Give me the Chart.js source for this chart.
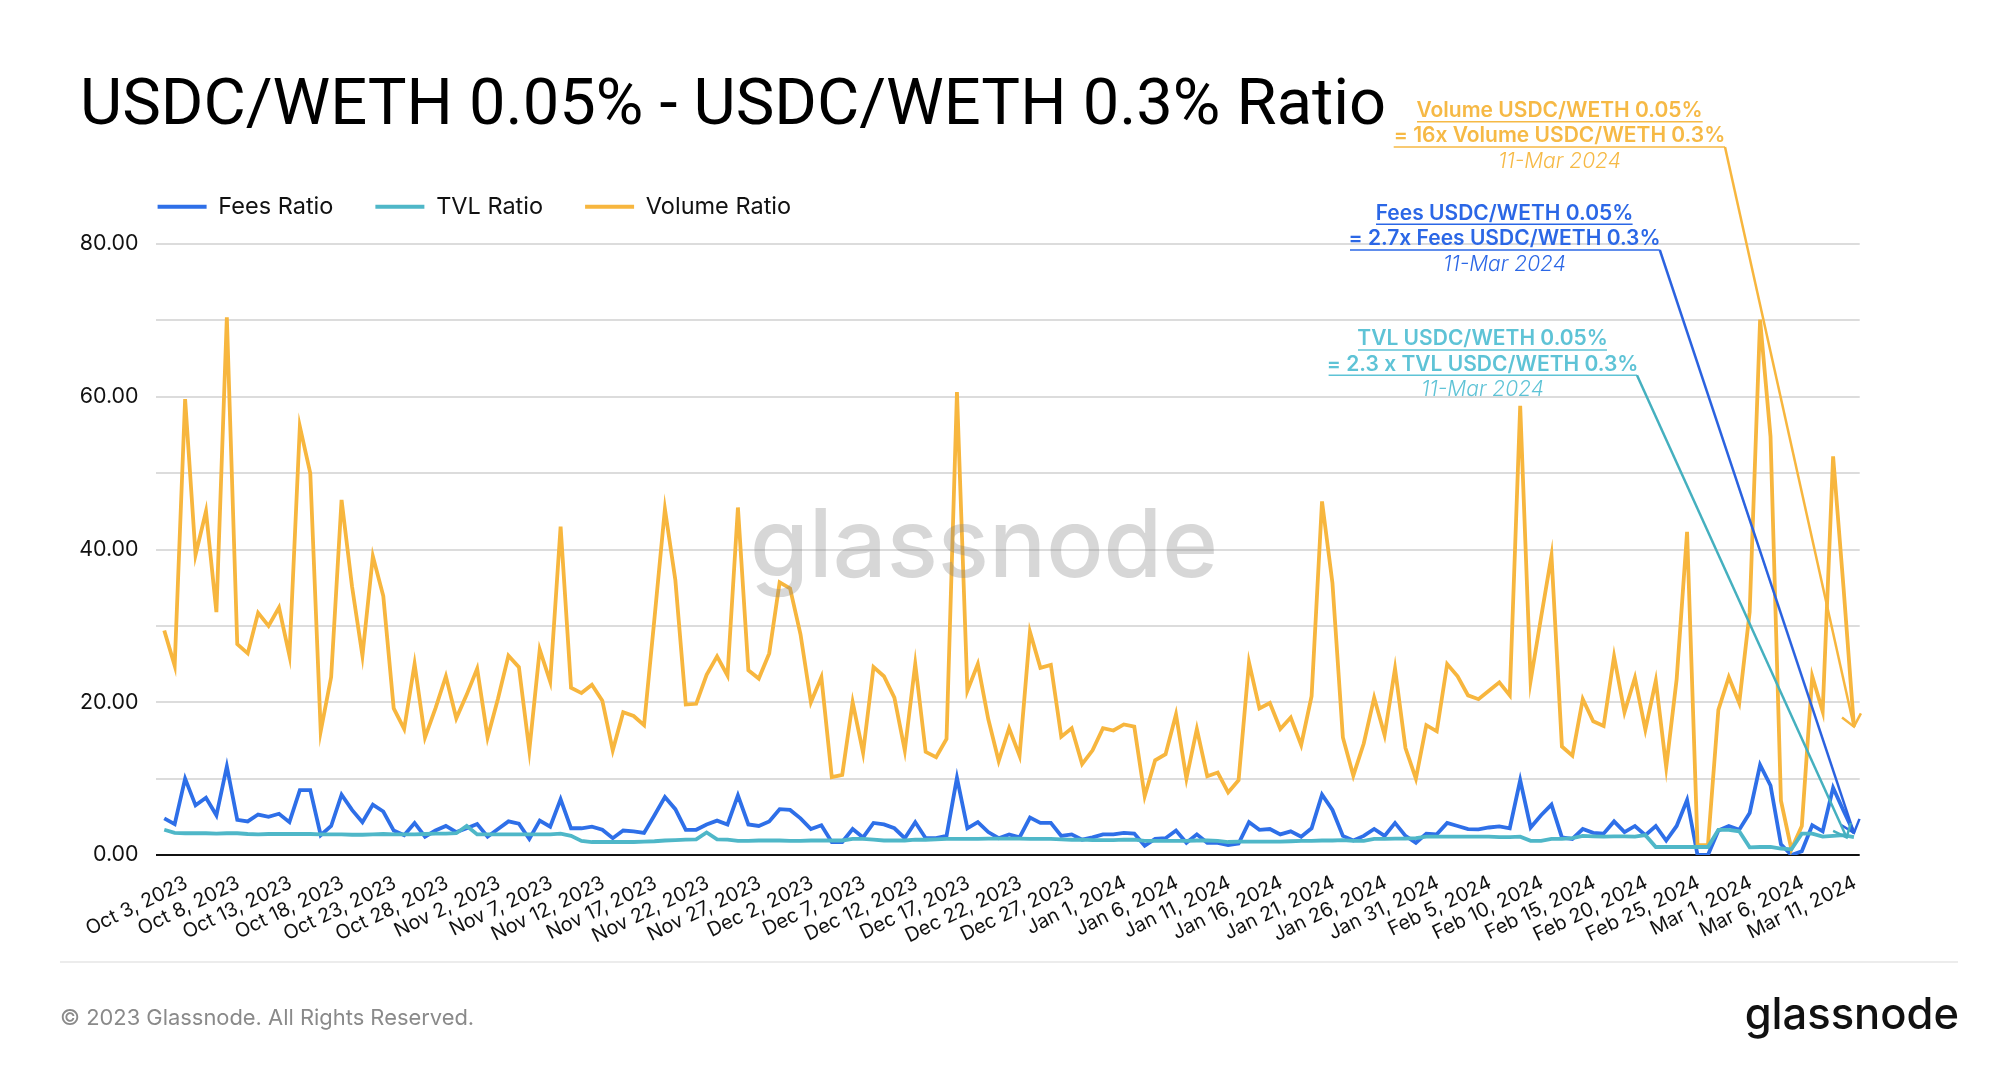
<!DOCTYPE html>
<html><head><meta charset="utf-8">
<style>html,body{margin:0;padding:0;background:#fff}canvas{display:block}</style>
<script src="https://cdn.jsdelivr.net/npm/chart.js@4/dist/chart.umd.js"></script>
</head><body>
<canvas id="c" width="2000" height="1068"></canvas>
<script>
const titleText = 'USDC/WETH 0.05% - USDC/WETH 0.3% Ratio';
const startDate = [2023, 9, 3];
const feesRatio = [4.8,4.05,10,6.5,7.5,5.2,11.6,4.6,4.4,5.3,
5,5.4,4.3,8.5,8.5,2.6,3.8,7.9,5.9,4.3,
6.6,5.7,3.2,2.6,4.2,2.4,3.2,3.8,3,3.5,
4.05,2.4,3.4,4.4,4.1,2.1,4.5,3.7,7.3,3.5,
3.5,3.7,3.3,2.2,3.2,3.1,2.9,5.2,7.6,6,
3.3,3.3,4,4.5,4,7.8,4,3.8,4.4,6,
5.9,4.8,3.4,3.9,1.7,1.7,3.4,2.3,4.2,4,
3.5,2.2,4.3,2.2,2.2,2.5,10.1,3.5,4.3,3,
2.2,2.7,2.3,4.9,4.2,4.2,2.5,2.7,2,2.3,
2.7,2.7,2.9,2.8,1.2,2.1,2.2,3.2,1.6,2.7,
1.6,1.6,1.3,1.5,4.3,3.3,3.4,2.7,3.1,2.4,
3.5,7.9,5.9,2.5,1.9,2.5,3.4,2.5,4.2,2.5,
1.6,2.8,2.7,4.2,3.8,3.4,3.35,3.6,3.75,3.5,
9.8,3.6,5.2,6.6,2.3,2.1,3.4,2.9,2.8,4.4,
3,3.8,2.6,3.8,1.9,3.8,7.2,0,0,3.2,
3.8,3.3,5.5,11.8,9.1,1.4,0,0.5,3.9,3.1,
8.8,5.8,2.9];
const tvlRatio = [3.3,2.9,2.85,2.85,2.85,2.8,2.85,2.85,2.75,2.7,
2.75,2.75,2.75,2.75,2.75,2.7,2.7,2.7,2.65,2.65,
2.7,2.75,2.7,2.7,2.7,2.75,2.8,2.8,2.85,3.8,
2.7,2.7,2.7,2.7,2.7,2.7,2.7,2.7,2.8,2.5,
1.85,1.7,1.7,1.7,1.7,1.7,1.75,1.8,1.9,1.95,
2,2.05,2.95,2.05,2,1.85,1.85,1.9,1.9,1.9,
1.85,1.85,1.9,1.9,1.9,1.9,2.1,2.1,2,1.9,
1.9,1.9,2,2,2.05,2.1,2.1,2.1,2.1,2.15,
2.15,2.15,2.15,2.1,2.1,2.1,2.05,2,2,1.95,
1.95,1.95,2,2,1.85,1.85,1.85,1.85,1.85,1.9,
1.9,1.85,1.7,1.75,1.75,1.75,1.75,1.75,1.8,1.85,
1.85,1.9,1.9,1.95,1.85,1.85,2.1,2.1,2.15,2.15,
2.2,2.4,2.4,2.4,2.4,2.4,2.4,2.4,2.35,2.35,
2.4,1.85,1.85,2.1,2.1,2.2,2.5,2.45,2.4,2.45,
2.45,2.4,2.6,1.05,1.05,1.05,1.05,1.05,1.05,3.3,
3.3,3.1,1,1.05,1.05,0.85,0.75,2.8,2.8,2.4,
2.5,2.6,2.35];
const volumeRatio = [29.4,24.8,59.7,39.3,45,31.8,70.4,27.6,26.4,31.7,
30,32.4,26.1,56.1,50,16.2,23.3,46.5,35.2,26.1,
39.1,33.9,19.2,16.5,25,15.4,19.2,23.4,17.9,21,
24.4,15.4,20.5,26.1,24.6,13.7,26.9,22.7,43,21.9,
21.2,22.3,20.2,13.7,18.7,18.2,17,31,45.3,36,
19.7,19.8,23.6,26,23.5,45.5,24.2,23.1,26.4,35.7,
34.9,28.9,20,23.3,10.2,10.5,20,13.4,24.6,23.4,
20.6,13.7,25,13.5,12.8,15.2,60.6,21.5,25,17.8,
12.3,16.6,13,29.2,24.5,24.9,15.5,16.6,11.9,13.7,
16.6,16.3,17.1,16.8,7.7,12.4,13.2,18.4,10,16.5,
10.3,10.8,8.2,9.8,25.2,19.2,19.9,16.5,18,14.4,
20.8,46.3,35.6,15.4,10.4,14.6,20.6,15.7,24.4,14,
10,17,16.2,25,23.4,20.9,20.4,21.5,22.6,20.9,
58.8,22.8,31.1,39.2,14.2,13,20.4,17.5,16.9,26,
18.7,23.2,16.4,22.8,11.5,23,42.3,1.3,1.3,19,
23.3,19.9,31.8,70.1,54.8,7.1,0.75,3.8,23.4,18.8,
52.2,35,16.8];
const tickStep = 5;
const lastTick = 160;
const seriesNames = ['Fees Ratio','TVL Ratio','Volume Ratio'];
const BLUE='#2e6fe8', TEAL='#4fb7c8', ORANGE='#f7b63e';

const categories = volumeRatio.map((_, i) => {
  const d = new Date(startDate[0], startDate[1], startDate[2] + i);
  return d.toLocaleDateString('en-US', {month:'short', day:'numeric', year:'numeric'});
});
const tickIndex = [];
for (let i = 0; i <= lastTick; i += tickStep) tickIndex.push(i);
const toPoints = arr => arr.map((y, x) => ({x, y}));

const callouts = [
 {color:'#f6b945', line:ORANGE, cx:1559.5, ys:[110.3,136,161.7], t:['Volume USDC/WETH 0.05%','= 16x Volume USDC/WETH 0.3%','11-Mar 2024'],
  u1:[1417,1702.7,121.7], u2:[1393.7,1725,147], ti:162, tv:16.8},
 {color:'#2b67e6', line:'#2b63e0', cx:1504.5, ys:[213.3,238.7,264.3], t:['Fees USDC/WETH 0.05%','= 2.7x Fees USDC/WETH 0.3%','11-Mar 2024'],
  u1:[1376,1632.6,224.3], u2:[1350,1659.8,250], ti:162, tv:2.9},
 {color:'#5ec3d6', line:'#45b0bf', cx:1482.6, ys:[338.7,364.3,389.3], t:['TVL USDC/WETH 0.05%','= 2.3 x TVL USDC/WETH 0.3%','11-Mar 2024'],
  u1:[1358,1607,350], u2:[1328.6,1637,375.3], ti:161.3, tv:2.3}
];

const overlay = {
  id:'overlay',
  beforeLayout(chart){
    const lg = chart.legend;
    if(!lg._patched){
      lg._patched = true;
      const fit = lg.fit;
      lg.fit = function(){ fit.call(this); this.height = 91; };
    }
  },
  afterLayout(chart){
    chart.legend.left = chart.chartArea.left - 40;
  },
  afterDatasetsDraw(chart){
    const {ctx, scales:{x,y}} = chart;
    ctx.save();
    ctx.fillStyle='rgba(130,130,130,0.32)';
    ctx.font='500 95px "Inter"';
    ctx.textAlign='center'; ctx.textBaseline='alphabetic';
    ctx.fillText('glassnode', 984, 577);
    for(const c of callouts){
      ctx.textAlign='center'; ctx.textBaseline='middle'; ctx.fillStyle=c.color;
      ctx.font='600 21px "Inter"';
      ctx.fillText(c.t[0], c.cx, c.ys[0]);
      ctx.fillText(c.t[1], c.cx, c.ys[1]);
      ctx.font='italic 300 21px "Inter"';
      ctx.fillText(c.t[2], c.cx, c.ys[2]);
      ctx.strokeStyle=c.color; ctx.lineWidth=1.6;
      for(const u of [c.u1,c.u2]){ctx.beginPath();ctx.moveTo(u[0],u[2]);ctx.lineTo(u[1],u[2]);ctx.stroke();}
      const sx=c.u2[1], sy=c.u2[2], tx=x.getPixelForValue(c.ti), ty=y.getPixelForValue(c.tv);
      ctx.strokeStyle=c.line; ctx.lineWidth=2.5;
      ctx.beginPath();ctx.moveTo(sx,sy);ctx.lineTo(tx,ty);ctx.stroke();
      const a=Math.atan2(sy-ty,sx-tx), L=15, w=0.7;
      ctx.beginPath();
      ctx.moveTo(tx+L*Math.cos(a-w),ty+L*Math.sin(a-w));
      ctx.lineTo(tx,ty);
      ctx.lineTo(tx+L*Math.cos(a+w),ty+L*Math.sin(a+w));
      ctx.stroke();
    }
    ctx.strokeStyle='#ececec'; ctx.lineWidth=2;
    ctx.beginPath();ctx.moveTo(60,962);ctx.lineTo(1958,962);ctx.stroke();
    ctx.textAlign='left'; ctx.textBaseline='middle'; ctx.fillStyle='#8a8a8a';
    ctx.font='21.9px "Inter"';
    ctx.fillText('© 2023 Glassnode. All Rights Reserved.', 60, 1018);
    ctx.textAlign='right'; ctx.textBaseline='alphabetic'; ctx.fillStyle='#111';
    ctx.font='500 43.5px "Inter"';
    ctx.fillText('glassnode', 1959, 1029);
    ctx.restore();
  }
};

new Chart(document.getElementById('c'), {
  type:'line',
  data:{datasets:[
    {label:seriesNames[0], data:toPoints(feesRatio), borderColor:BLUE, backgroundColor:BLUE, borderWidth:3.8, order:3},
    {label:seriesNames[1], data:toPoints(tvlRatio), borderColor:TEAL, backgroundColor:TEAL, borderWidth:3.8, order:1},
    {label:seriesNames[2], data:toPoints(volumeRatio), borderColor:ORANGE, backgroundColor:ORANGE, borderWidth:3.8, order:2}
  ]},
  options:{
    responsive:false, animation:false,
    layout:{padding:{left:80, right:140.3, top:0, bottom:0}},
    elements:{point:{radius:0}, line:{tension:0, borderJoinStyle:'miter'}},
    plugins:{
      tooltip:{enabled:false},
      title:{display:true, text:titleText, align:'start', color:'#000',
        font:{family:'Roboto', size:65, weight:'400'}, padding:{top:69, bottom:6}},
      legend:{display:true, position:'top', align:'start', fullSize:false,
        labels:{usePointStyle:true, pointStyle:'line', pointStyleWidth:49, padding:42,
          sort:(a,b)=>a.datasetIndex-b.datasetIndex,
          color:'#111', font:{family:'Inter', size:23.5}}}
    },
    scales:{
      x:{type:'linear', min:-0.83, max:162.55,
        afterBuildTicks(s){ s.ticks = tickIndex.map(value=>({value})); },
        afterFit(s){ s.height = 213; },
        grid:{display:false}, border:{display:false},
        ticks:{autoSkip:false, maxRotation:26, minRotation:26, labelOffset:22, padding:8,
          color:'#111', font:{family:'Inter', size:19.8},
          callback:v=>categories[v]}},
      y:{type:'linear', min:0, max:80,
        afterFit(s){ s.width = 75.6; },
        border:{display:false},
        grid:{drawTicks:false, lineWidth:2, color:c=>c.tick.value===0?'#111':'#dcdcdc'},
        ticks:{stepSize:10, padding:17, color:'#111', font:{family:'Inter', size:21.4},
          callback:v=>v%20===0?v.toFixed(2):''}}
    }
  },
  plugins:[overlay]
});
</script>
</body></html>
